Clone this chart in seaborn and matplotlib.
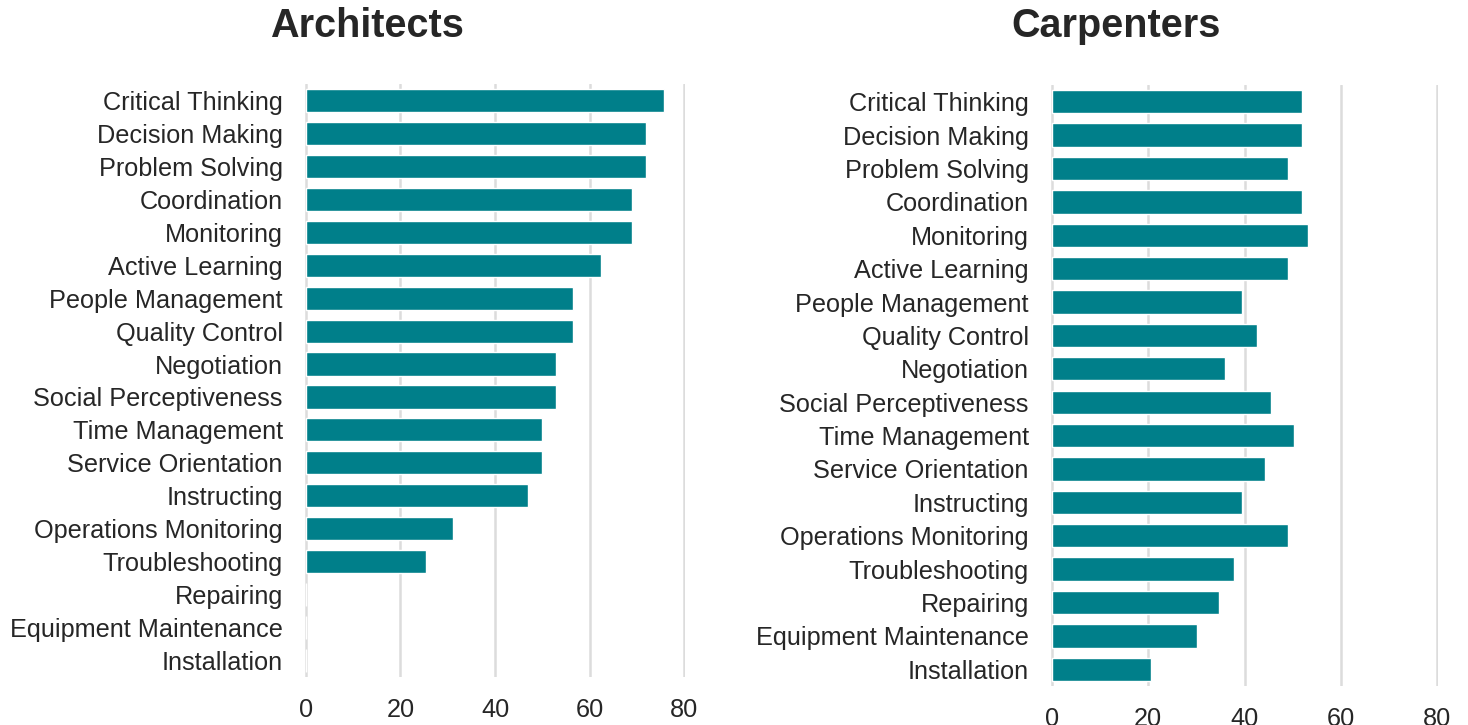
import matplotlib
matplotlib.use("Agg")
import matplotlib.pyplot as plt
import seaborn as sns
import pandas as pd

skills = ["Critical Thinking", "Decision Making", "Problem Solving", "Coordination",
          "Monitoring", "Active Learning", "People Management", "Quality Control",
          "Negotiation", "Social Perceptiveness", "Time Management", "Service Orientation",
          "Instructing", "Operations Monitoring", "Troubleshooting", "Repairing",
          "Equipment Maintenance", "Installation"]
architects = [75.8, 72, 72, 69, 69, 62.4, 56.4, 56.4, 53, 53, 50, 50, 47,
              31.2, 25.3, 0, 0, 0]
carpenters = [52, 52, 49.1, 52, 53.2, 49.1, 39.5, 42.6, 36, 45.5, 50.3, 44.3, 39.5,
              49.1, 37.8, 34.7, 30.2, 20.6]
xticks = [0, 20, 40, 60, 80]

teal = "#007f8a"
txt = "#262626"

sns.set_theme(style="white")
plt.rcParams["font.family"] = ["Liberation Sans", "DejaVu Sans"]

fig = plt.figure(figsize=(14.68, 7.25), dpi=100)

# two panels, positioned by hand to match the reference
ax_l = fig.add_axes([305 / 1468, 1 - 677 / 725, 380 / 1468, 593 / 725])
ax_r = fig.add_axes([1051 / 1468, 1 - 686 / 725, 387 / 1468, 601 / 725])

panels = [(ax_l, architects, "Architects", 0.2503),
          (ax_r, carpenters, "Carpenters", 0.760)]

for ax, vals, title, tx in panels:
    df = pd.DataFrame({"skill": skills, "value": vals})
    sns.barplot(data=df, y="skill", x="value", orient="h", color=teal,
                width=0.7, saturation=1, ax=ax, zorder=3)
    ax.set_xlim(-0.2, 80.2)
    ax.set_xticks(xticks)
    ax.set_xlabel("")
    ax.set_ylabel("")
    ax.grid(axis="x", color="#dcdcdc", linewidth=1.8, zorder=0)
    ax.grid(axis="y", visible=False)
    ax.set_axisbelow(True)
    sns.despine(ax=ax, left=True, bottom=True)
    ax.tick_params(axis="y", length=0, pad=16, labelsize=18.2, labelcolor=txt)
    ax.tick_params(axis="x", length=0, pad=15, labelsize=18.2, labelcolor=txt)
    fig.text(tx, 1 - 37 / 725, title, ha="center", va="baseline",
             fontsize=28.5, fontweight="bold", color=txt)

fig.savefig("out.png", dpi=100)
